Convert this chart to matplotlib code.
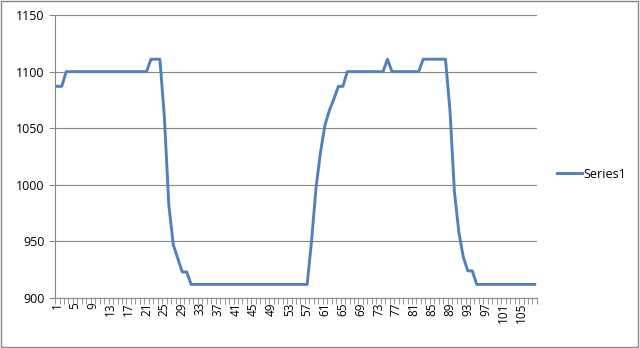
import numpy as np
import matplotlib.pyplot as plt

# values, points 1..108
series1 = ([1087, 1087] + [1100] * 19 + [1111, 1111, 1111]
           + [1060, 982, 947, 935, 923, 923] + [912] * 27
           + [951, 998, 1029, 1053, 1066, 1076, 1087, 1087] + [1100] * 9
           + [1111] + [1100] * 7 + [1111] * 6
           + [1066, 994, 958, 936, 924, 924] + [912] * 14)
x = np.arange(1, len(series1) + 1)
x_labels = x[::4]
y_ticks = [900, 950, 1000, 1050, 1100, 1150]

plt.rcParams['font.family'] = ['Open Sans', 'DejaVu Sans']
fig = plt.figure(figsize=(6.4, 3.48), dpi=100)
ax = fig.add_axes([0.086, 0.1437, 0.753, 0.813])

ax.plot(x, series1, color='#4F81BD', linewidth=2.1, label='Series1')

ax.set_xlim(0.5, len(series1) + 0.5)
ax.set_ylim(900, 1150)
ax.set_yticks(y_ticks)
ax.set_xticks(x_labels)
ax.set_xticklabels([str(v) for v in x_labels], rotation=90)
ax.set_xticks(np.arange(0.5, len(series1) + 1), minor=True)
ax.tick_params(axis='x', which='major', length=0, labelsize=8.5, pad=3)
ax.tick_params(axis='x', which='minor', length=4, color='#868686', direction='out')
ax.tick_params(axis='y', length=4, color='#868686', labelsize=9)
ax.grid(axis='y', color='#868686', linewidth=0.8)
ax.set_axisbelow(True)
for s in ['top', 'right']:
    ax.spines[s].set_visible(False)
for s in ['left', 'bottom']:
    ax.spines[s].set_color('#868686')

fig.legend(loc='center left', bbox_to_anchor=(0.853, 0.5), frameon=False,
           fontsize=9, handlelength=2.0, handletextpad=0.1)

fig.patches.append(plt.Rectangle((0.002, 0.003), 0.995, 0.993, transform=fig.transFigure,
                                 fill=False, edgecolor='#868686', linewidth=1))
fig.savefig('out.png', dpi=100)
